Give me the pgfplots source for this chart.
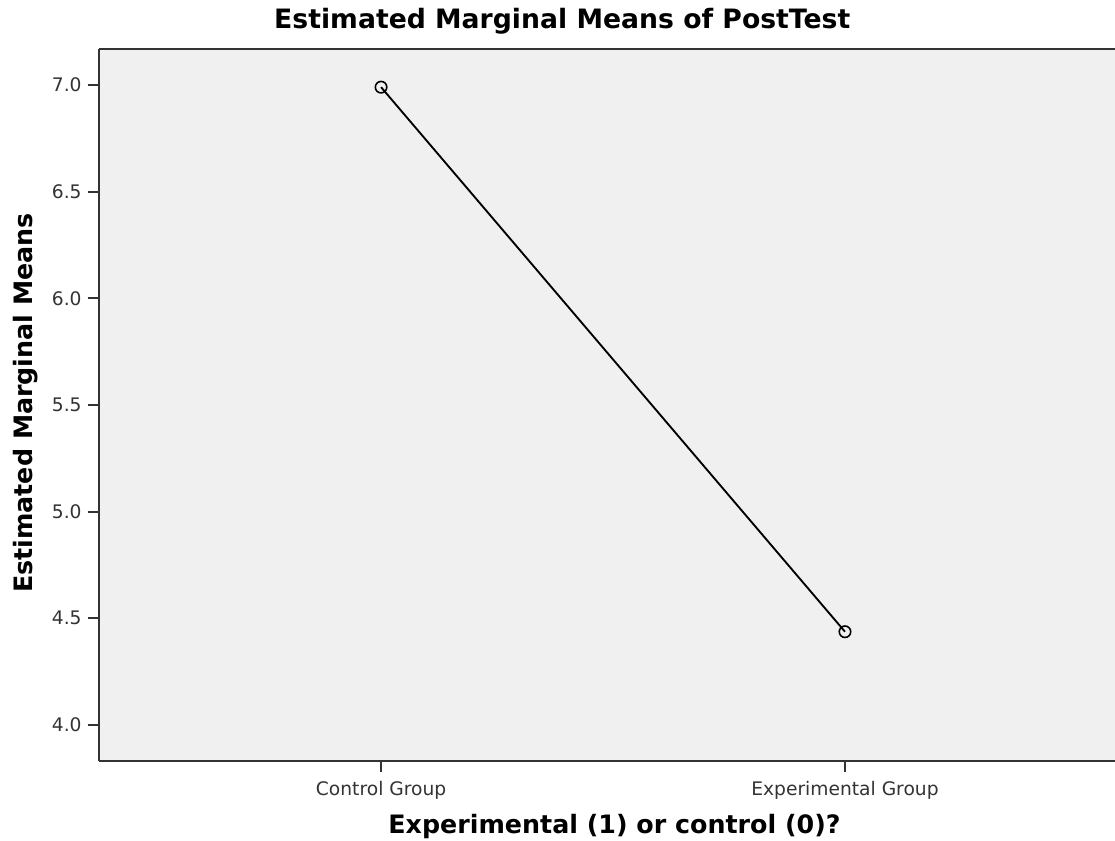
\documentclass[border=0pt]{standalone}
\usepackage{pgfplots}
\pgfplotsset{compat=1.18}
\usepackage{fontspec}
\setmainfont{DejaVu Sans}
\definecolor{bgcol}{HTML}{F0F0F0}
\definecolor{axcol}{HTML}{333333}
\definecolor{tickcol}{HTML}{333333}
\begin{document}
\begin{tikzpicture}
\useasboundingbox (-74.25pt,-60pt) rectangle (762pt,570.75pt);
\begin{axis}[
  at={(0pt,0pt)}, anchor=south west,
  scale only axis, width=762pt, height=534pt,
  xmin=-0.608, xmax=1.582,
  ymin=3.831, ymax=7.169,
  axis x line=box, axis y line=left,
  every outer y axis line/.append style={-, axcol, line width=2pt},
  every outer x axis line/.append style={axcol, line width=2pt},
  every boxed x axis/.append style={axcol, line width=2pt},
  x axis line style={axcol, line width=2pt},
  y axis line style={-, axcol, line width=2pt},
  axis background/.style={fill=bgcol},
  xtick={0,1}, xticklabels={Control Group, Experimental Group},
  xtick pos=bottom,
  ytick={4.0,4.5,5.0,5.5,6.0,6.5,7.0},
  /pgf/number format/fixed, /pgf/number format/fixed zerofill, /pgf/number format/precision=1,
  tick align=outside, major tick length=8.5pt,
  tick style={axcol, line width=1.5pt},
  ticklabel style={font=\fontsize{14}{16}\selectfont, text=tickcol},
  xticklabel style={yshift=-3pt},
  yticklabel style={xshift=-1pt},
  /pgf/number format/assume math mode=true,
  title={Estimated Marginal Means of PostTest},
  title style={font=\fontsize{20}{24}\bfseries, at={(axis description cs:0.456,1.0169)}, anchor=base},
  xlabel={Experimental (1) or control (0)?},
  xlabel style={font=\fontsize{19}{23}\bfseries, at={(axis description cs:0.5074,-0.1018)}, anchor=base},
  ylabel={Estimated Marginal Means},
  ylabel style={font=\fontsize{19}{23}\bfseries, at={(axis description cs:-0.065,0.5028)}, anchor=base, rotate=0},
  clip=false,
]
\addplot[black, line width=1.4pt, mark=o, mark size=4.3pt, mark options={line width=1.2pt, fill=none}]
  coordinates {(0,6.99) (1,4.437)};
\end{axis}
\end{tikzpicture}
\end{document}
